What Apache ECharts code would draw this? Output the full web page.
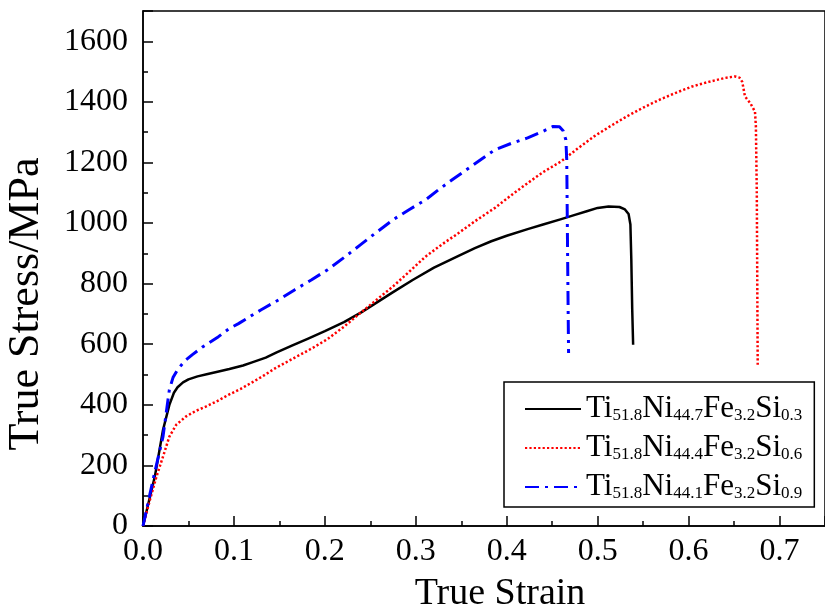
<!DOCTYPE html>
<html>
<head>
<meta charset="utf-8">
<script src="https://cdn.jsdelivr.net/npm/echarts@6/dist/echarts.min.js"></script>
<style>
  html, body { margin: 0; padding: 0; background: #fff; }
  #chart { width: 825px; height: 612px; }
</style>
</head>
<body>
<div id="chart"></div>
<script>
// True stress–strain curves for three TiNiFeSi alloys: [true strain, true stress (MPa)]
const si03 = [
  [0, 0], [0.013, 163], [0.022, 317], [0.029, 400], [0.034, 440], [0.038, 458],
  [0.044, 474], [0.05, 484], [0.06, 494], [0.07, 501], [0.082, 509], [0.095, 518],
  [0.11, 530], [0.12, 540], [0.135, 556], [0.147, 573], [0.165, 597], [0.181, 618],
  [0.2, 643], [0.221, 673], [0.24, 705], [0.253, 730], [0.275, 772], [0.297, 813],
  [0.32, 853], [0.347, 892], [0.365, 917], [0.383, 940], [0.4, 958], [0.423, 980],
  [0.44, 995], [0.459, 1012], [0.475, 1027], [0.488, 1039], [0.5, 1050], [0.512, 1055],
  [0.524, 1053], [0.53, 1045], [0.534, 1030], [0.536, 995], [0.537, 880], [0.538, 715],
  [0.539, 598]
];
const si06 = [
  [0, 0], [0.0076, 86], [0.0148, 163], [0.022, 229], [0.029, 295], [0.0365, 334],
  [0.047, 361], [0.058, 380], [0.069, 394], [0.082, 413], [0.094, 433], [0.107, 452],
  [0.12, 474], [0.133, 497], [0.145, 520], [0.167, 556], [0.185, 585], [0.203, 617],
  [0.221, 658], [0.239, 703], [0.257, 747], [0.275, 791], [0.293, 840], [0.311, 890],
  [0.329, 930], [0.347, 967], [0.365, 1006], [0.387, 1050], [0.405, 1092], [0.423, 1132],
  [0.44, 1168], [0.46, 1204], [0.478, 1246], [0.496, 1286], [0.514, 1320], [0.532, 1352],
  [0.55, 1381], [0.568, 1407], [0.586, 1430], [0.604, 1451], [0.622, 1466], [0.64, 1479],
  [0.651, 1484], [0.656, 1480], [0.659, 1466], [0.662, 1418], [0.668, 1395], [0.673, 1368],
  [0.674, 1319], [0.675, 1099], [0.676, 532]
];
const si09 = [
  [0, 0], [0.011, 152], [0.022, 295], [0.029, 450], [0.033, 490], [0.038, 516],
  [0.046, 545], [0.054, 565], [0.065, 590], [0.083, 625], [0.094, 650], [0.105, 668],
  [0.13, 714], [0.15, 748], [0.167, 780], [0.185, 812], [0.203, 846], [0.221, 886],
  [0.239, 928], [0.257, 970], [0.275, 1011], [0.293, 1045], [0.311, 1077], [0.325, 1110],
  [0.34, 1143], [0.36, 1185], [0.387, 1242], [0.405, 1263], [0.423, 1281], [0.44, 1303],
  [0.451, 1319], [0.458, 1318], [0.462, 1305], [0.465, 1275], [0.466, 1209], [0.467, 879],
  [0.468, 571]
];

const seriesNames = ['Ti51.8Ni44.7Fe3.2Si0.3', 'Ti51.8Ni44.4Fe3.2Si0.6', 'Ti51.8Ni44.1Fe3.2Si0.9'];
const xTitle = 'True Strain';
const yTitle = 'True Stress/MPa';

const serif = 'Liberation Serif';

// Split a formula into element symbols and subscript numbers for rich text
function formulaRich(name) {
  return name.replace(/([A-Z][a-z]?)([0-9.]+)/g, '{b|$1}{s|$2}');
}

const chart = echarts.init(document.getElementById('chart'), null, { renderer: 'canvas' });

const makeSeries = (name, data, color, width, type) => ({
  name: name,
  type: 'line',
  data: data,
  showSymbol: false,
  symbol: 'none',
  smooth: false,
  lineStyle: { color: color, width: width, type: type, cap: 'butt', join: 'round' },
  itemStyle: { color: color },
  emphasis: { disabled: true },
  animation: false
});

chart.setOption({
  animation: false,
  backgroundColor: '#fff',
  grid: {
    left: 143, top: 11, right: -9.5, bottom: 86,
    show: true, borderColor: '#000', borderWidth: 1.5, backgroundColor: 'transparent'
  },
  xAxis: {
    type: 'value', min: 0, max: 0.75, interval: 0.1,
    axisLine: { lineStyle: { color: '#000', width: 1.5 } },
    axisTick: { inside: true, length: 10, lineStyle: { color: '#000', width: 1.5 } },
    minorTick: { show: true, splitNumber: 2, length: 5, lineStyle: { color: '#000', width: 1.5 } },
    splitLine: { show: false },
    axisLabel: {
      color: '#000', fontFamily: serif, fontSize: 32, margin: 10,
      showMaxLabel: false,
      formatter: v => v.toFixed(1)
    }
  },
  yAxis: {
    type: 'value', min: 0, max: 1700, interval: 200,
    axisLine: { lineStyle: { color: '#000', width: 1.5 } },
    axisTick: { inside: true, length: 10, lineStyle: { color: '#000', width: 1.5 } },
    minorTick: { show: true, splitNumber: 2, length: 5, lineStyle: { color: '#000', width: 1.5 } },
    splitLine: { show: false },
    axisLabel: {
      color: '#000', fontFamily: serif, fontSize: 32, margin: 15,
      showMaxLabel: false,
      formatter: v => String(v)
    }
  },
  legend: {
    orient: 'vertical',
    left: 504, top: 382,
    padding: [11, 12, 5, 20],
    itemGap: 8,
    itemWidth: 56, itemHeight: 14,
    backgroundColor: '#fff',
    borderColor: '#000', borderWidth: 1.5, borderRadius: 0,
    itemStyle: { opacity: 0 },
    data: seriesNames,
    formatter: name => formulaRich(name),
    textStyle: {
      rich: {
        b: { fontFamily: serif, fontSize: 31, color: '#000', lineHeight: 30, verticalAlign: 'bottom' },
        s: { fontFamily: serif, fontSize: 17, color: '#000', lineHeight: 30, verticalAlign: 'bottom' }
      }
    }
  },
  graphic: [
    {
      type: 'text', x: 500, y: 594,
      style: { text: xTitle, font: '38px "Liberation Serif"', fill: '#000', align: 'center', verticalAlign: 'middle' }
    },
    {
      type: 'text', x: 26, y: 304, rotation: Math.PI / 2,
      style: { text: yTitle, font: '44px "Liberation Serif"', fill: '#000', align: 'center', verticalAlign: 'middle' }
    }
  ],
  series: [
    makeSeries(seriesNames[0], si03, '#000000', 2.5, 'solid'),
    makeSeries(seriesNames[1], si06, '#ff0000', 2.5, [2.2, 2.2]),
    makeSeries(seriesNames[2], si09, '#0000ff', 3, [14, 6, 3, 6])
  ]
});
</script>
</body>
</html>
